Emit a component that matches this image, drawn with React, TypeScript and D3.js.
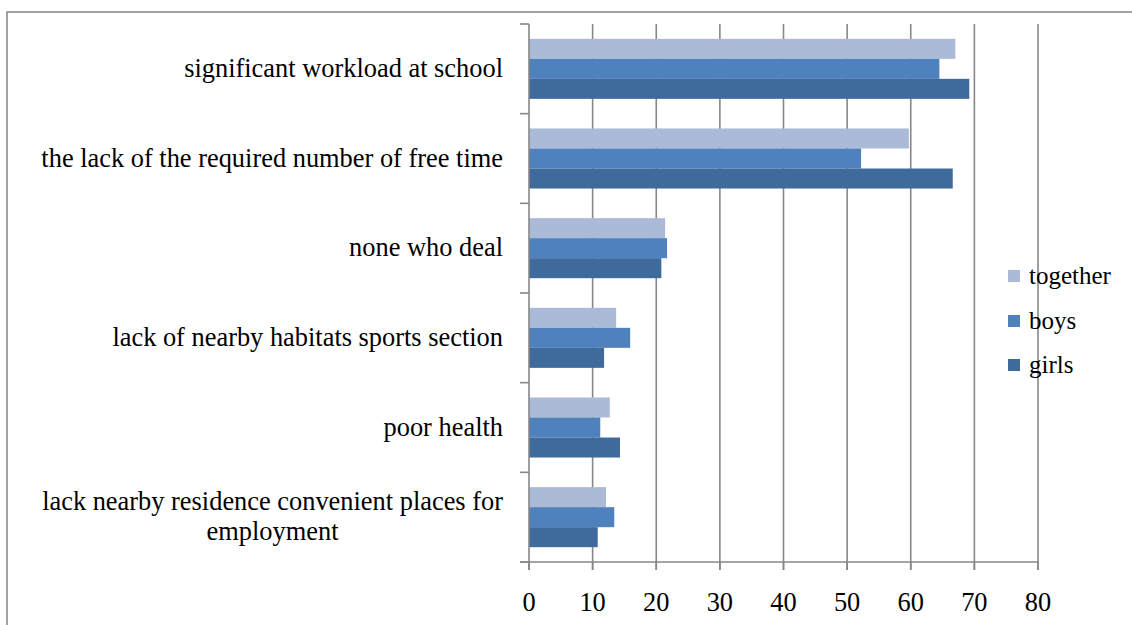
import React, { useEffect, useRef } from "react";
import * as d3 from "d3";

const categories: string[] = [
  "significant workload at school",
  "the lack of the required number of free time",
  "none who deal",
  "lack of nearby habitats sports section",
  "poor health",
  "lack nearby residence convenient places for|employment",
];
const seriesNames: string[] = ["together", "boys", "girls"];
const together: number[] = [67.0, 59.7, 21.4, 13.7, 12.7, 12.1];
const boys: number[] = [64.5, 52.2, 21.7, 15.9, 11.2, 13.4];
const girls: number[] = [69.2, 66.6, 20.8, 11.8, 14.3, 10.8];
const xTicks: number[] = [0, 10, 20, 30, 40, 50, 60, 70, 80];
const colors: string[] = ["#AABAD7", "#4F81BD", "#3F6A9C"];

export default function App() {
  const ref = useRef<SVGSVGElement | null>(null);

  useEffect(() => {
    const svg = d3.select(ref.current);
    svg.selectAll("*").remove();
    const font = "Liberation Serif, Times New Roman, serif";
    const fs = 26.4;
    const grid = "#878787";

    const x = d3.scaleLinear().domain([0, 80]).range([529, 1038]);
    const y0 = d3.scaleBand<string>().domain(categories).range([24, 562]).padding(0);
    const y1 = d3
      .scaleBand<string>()
      .domain(seriesNames)
      .range([0, y0.bandwidth()])
      .paddingInner(0)
      .paddingOuter(0.74);

    svg
      .append("rect")
      .attr("x", 7)
      .attr("y", 12)
      .attr("width", 1140)
      .attr("height", 700)
      .attr("fill", "white")
      .attr("stroke", "#8c8c8c")
      .attr("stroke-width", 1.6);

    svg
      .append("g")
      .selectAll("line")
      .data(xTicks.slice(1))
      .join("line")
      .attr("x1", (d) => x(d))
      .attr("x2", (d) => x(d))
      .attr("y1", 24)
      .attr("y2", 570)
      .attr("stroke", grid)
      .attr("stroke-width", 1.6);

    const data = [together, boys, girls];
    const g = svg.append("g");
    categories.forEach((c, i) => {
      seriesNames.forEach((s, j) => {
        g.append("rect")
          .attr("x", x(0))
          .attr("y", (y0(c) as number) + (y1(s) as number))
          .attr("width", x(data[j][i]) - x(0))
          .attr("height", y1.bandwidth())
          .attr("fill", colors[j]);
      });
    });

    svg
      .append("line")
      .attr("x1", x(0))
      .attr("x2", x(0))
      .attr("y1", 24)
      .attr("y2", 570)
      .attr("stroke", grid)
      .attr("stroke-width", 1.6);
    const yTickPos = categories.map((c) => y0(c) as number).concat([562]);
    svg
      .append("g")
      .selectAll("line")
      .data(yTickPos)
      .join("line")
      .attr("x1", 520)
      .attr("x2", x(0))
      .attr("y1", (d) => d)
      .attr("y2", (d) => d)
      .attr("stroke", grid)
      .attr("stroke-width", 1.6);

    svg
      .append("line")
      .attr("x1", 520)
      .attr("x2", x(80))
      .attr("y1", 562)
      .attr("y2", 562)
      .attr("stroke", grid)
      .attr("stroke-width", 1.6);
    svg
      .append("g")
      .selectAll("line")
      .data(xTicks)
      .join("line")
      .attr("x1", (d) => x(d))
      .attr("x2", (d) => x(d))
      .attr("y1", 562)
      .attr("y2", 570)
      .attr("stroke", grid)
      .attr("stroke-width", 1.6);
    svg
      .append("g")
      .selectAll("text")
      .data(xTicks)
      .join("text")
      .attr("x", (d) => x(d))
      .attr("y", 611)
      .attr("text-anchor", "middle")
      .attr("font-family", font)
      .attr("font-size", fs)
      .attr("fill", "#000")
      .text((d) => String(d));

    categories.forEach((c) => {
      const lines = c.split("|");
      const cy = (y0(c) as number) + y0.bandwidth() / 2;
      const lh = 30;
      if (lines.length === 1) {
        svg
          .append("text")
          .attr("x", 503)
          .attr("y", cy + 8)
          .attr("text-anchor", "end")
          .attr("font-family", font)
          .attr("font-size", fs)
          .attr("fill", "#000")
          .text(lines[0]);
      } else {
        const t = svg
          .append("text")
          .attr("font-family", font)
          .attr("font-size", fs)
          .attr("fill", "#000")
          .attr("text-anchor", "middle");
        const tmp = svg
          .append("text")
          .attr("font-family", font)
          .attr("font-size", fs)
          .text(lines[0]);
        const w = (tmp.node() as SVGTextElement).getComputedTextLength();
        tmp.remove();
        const cx = 503 - w / 2;
        lines.forEach((ln, k) => {
          t.append("tspan")
            .attr("x", cx)
            .attr("y", cy + 8 - ((lines.length - 1) * lh) / 2 + k * lh)
            .text(ln);
        });
      }
    });

    const legY = [276, 321, 365];
    seriesNames.forEach((s, j) => {
      svg
        .append("rect")
        .attr("x", 1008)
        .attr("y", legY[j] - 6)
        .attr("width", 12)
        .attr("height", 12)
        .attr("fill", colors[j]);
      svg
        .append("text")
        .attr("x", 1029)
        .attr("y", legY[j] + 8)
        .attr("font-family", font)
        .attr("font-size", 25)
        .attr("fill", "#000")
        .text(s);
    });
  }, []);

  return (
    <svg
      ref={ref}
      width={1132}
      height={625}
      style={{ position: "absolute", left: 0, top: 0, background: "white" }}
    />
  );
}
